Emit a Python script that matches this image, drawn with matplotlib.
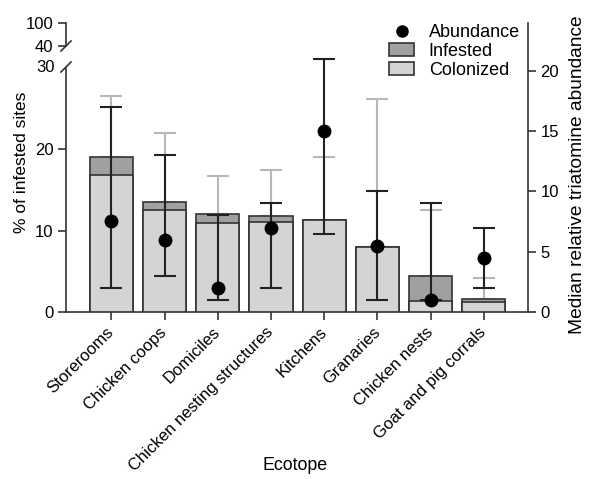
import matplotlib
matplotlib.use("Agg")
import matplotlib.pyplot as plt
from matplotlib.lines import Line2D
from matplotlib.patches import Patch

plt.rcParams['font.family'] = ['Liberation Sans', 'DejaVu Sans']
plt.rcParams['font.size'] = 12

categories = ["Storerooms", "Chicken coops", "Domiciles", "Chicken nesting structures",
              "Kitchens", "Granaries", "Chicken nests", "Goat and pig corrals"]
infested = [19.1, 13.5, 12.1, 11.8, 11.3, 8.0, 4.4, 1.6]
colonized = [16.9, 12.5, 10.9, 11.1, 11.3, 8.0, 1.4, 1.2]
infested_ci_upper = [26.6, 22.0, 16.7, 17.5, 19.0, 26.2, 12.5, 4.2]
abundance = [7.5, 6.0, 2.0, 7.0, 15.0, 5.5, 1.0, 4.5]
abundance_low = [2.0, 3.0, 1.0, 2.0, 6.5, 1.0, 1.0, 2.0]
abundance_high = [17.0, 13.0, 8.0, 9.0, 21.0, 10.0, 9.0, 7.0]

W, H = 589, 479
fig = plt.figure(figsize=(W / 100, H / 100), dpi=100)

xl, xr = 66, 528
y0, y30, y40, y100 = 312, 68, 46, 23
def fy(p):
    return (H - p) / H

left = xl / W
width = (xr - xl) / W
spine_c = '#333333'
dark = '#a0a0a0'
light = '#d4d4d4'
x = list(range(len(categories)))
xlim = (-0.853, 7.83)

# main (left) axis 0-30
ax = fig.add_axes([left, fy(y0), width, fy(y30) - fy(y0)])
ax.set_xlim(*xlim)
ax.set_ylim(0, 30)
low_err = [0 for _ in infested]
up_err = [u - v for u, v in zip(infested_ci_upper, infested)]
ax.errorbar(x, infested, yerr=[low_err, up_err], fmt='none', ecolor='#b8b8b8',
            elinewidth=1.5, capsize=8, capthick=1.5, zorder=1)
ax.bar(x, infested, width=0.81, color=dark, edgecolor=spine_c, linewidth=1.2, zorder=2)
ax.bar(x, colonized, width=0.81, color=light, edgecolor=spine_c, linewidth=1.2, zorder=3)
ax.set_yticks([0, 10, 20])
ax.set_xticks(x)
ax.set_xticklabels(categories, rotation=45, ha='right', va='center',
                   rotation_mode='anchor', fontsize=12)
ax.tick_params(axis='both', length=6, width=1.2, color=spine_c, pad=3)
ax.tick_params(axis='x', pad=7)
for s in ['top', 'right']:
    ax.spines[s].set_visible(False)
for s in ['left', 'bottom']:
    ax.spines[s].set_linewidth(1.2)
    ax.spines[s].set_color(spine_c)
ax.text(-0.025, 1.0, '30', transform=ax.transAxes, ha='right', va='center')
fig.text(21 / W, fy(162), '% of infested sites', rotation=90, ha='center', va='center',
         fontsize=12.5)
fig.text(295 / W, fy(466), 'Ecotope', ha='center', va='center', fontsize=12.8)

# upper broken segment 40-100
axt = fig.add_axes([left, fy(y40), width, fy(y100) - fy(y40)])
axt.set_xlim(*xlim)
axt.set_ylim(40, 100)
axt.set_yticks([40, 100])
axt.set_xticks([])
axt.patch.set_visible(False)
for s in ['top', 'right', 'bottom']:
    axt.spines[s].set_visible(False)
axt.spines['left'].set_linewidth(1.2)
axt.spines['left'].set_color(spine_c)
axt.tick_params(axis='y', length=6, width=1.2, color=spine_c, pad=3)

# break slashes
for yy in (y40, y30 - 1):
    fig.add_artist(Line2D([(xl - 5) / W, (xl + 5) / W], [fy(yy + 5), fy(yy - 5)],
                          color=spine_c, linewidth=1.2))

# right axis abundance
ax2 = fig.add_axes([left, fy(y0), width, fy(y100) - fy(y0)])
ax2.set_xlim(*xlim)
ax2.set_ylim(0, 23.95)
ax2.patch.set_visible(False)
lo = [a - l for a, l in zip(abundance, abundance_low)]
hi = [h - a for a, h in zip(abundance, abundance_high)]
ax2.errorbar(x, abundance, yerr=[lo, hi], fmt='none', ecolor='#222222',
             elinewidth=1.5, capsize=8, capthick=1.5, zorder=4)
ax2.plot(x, abundance, 'o', color='black', markersize=9, zorder=5)
ax2.yaxis.tick_right()
ax2.set_yticks([0, 5, 10, 15, 20])
ax2.set_xticks([])
for s in ['top', 'left', 'bottom']:
    ax2.spines[s].set_visible(False)
ax2.spines['right'].set_linewidth(1.2)
ax2.spines['right'].set_color(spine_c)
ax2.tick_params(axis='y', length=6, width=1.2, color=spine_c, pad=3)
fig.text(578 / W, fy(175), 'Median relative triatomine abundance', rotation=90,
         ha='center', va='center', fontsize=13.8)

handles = [Line2D([], [], marker='o', linestyle='none', color='black', markersize=8),
           Patch(facecolor=dark, edgecolor=spine_c, linewidth=1.2),
           Patch(facecolor=light, edgecolor=spine_c, linewidth=1.2)]
fig.legend(handles, ['Abundance', 'Infested', 'Colonized'], loc='upper left',
           bbox_to_anchor=(389 / W, fy(24)), frameon=False, handlelength=1.4,
           handletextpad=0.8, labelspacing=0.1, borderpad=0, borderaxespad=0,
           fontsize=13)

fig.savefig('out.png', dpi=100)
